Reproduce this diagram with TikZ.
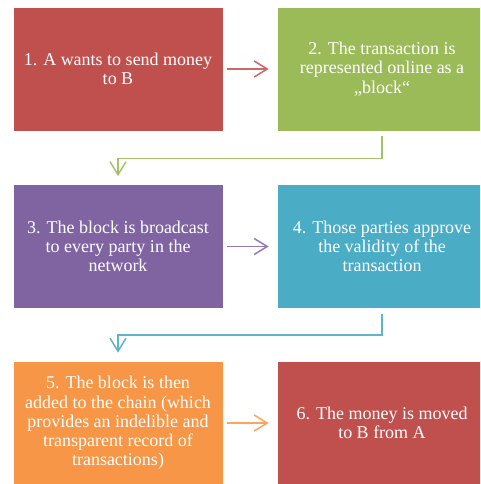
\documentclass[tikz,border=0pt]{standalone}
\usepackage{fontspec}
\setmainfont{Liberation Serif}
\usetikzlibrary{arrows.meta}
\definecolor{cred}{HTML}{C0504D}
\definecolor{cgreen}{HTML}{9BBB59}
\definecolor{cpurple}{HTML}{8064A2}
\definecolor{cteal}{HTML}{4BACC6}
\definecolor{corange}{HTML}{F79646}
\tikzset{
  box/.style={rectangle, draw=white, line width=0.8pt, minimum width=210pt, minimum height=124pt,
    text=white, align=center, inner sep=0pt,
    font=\fontsize{18pt}{19.2pt}\selectfont},
  conn/.style={line width=1.5pt, -{Straight Barb[length=13pt,width=16pt,line width=1.5pt]}},
}
\begin{document}
\begin{tikzpicture}[x=1pt,y=-1pt]
\clip (0,0) rectangle (480,484);
\fill[white] (0,0) rectangle (480,484);
\node[box, fill=cred] (b1) at (118,69) {1. A wants to send money\\to B};
\node[box, fill=cgreen] (b2) at (382,69) {2. The transaction is\\represented online as a\\„block“};
\node[box, fill=cpurple] (b3) at (118,246.5) {3. The block is broadcast\\to every party in the\\network};
\node[box, fill=cteal] (b4) at (382,246.5) {4. Those parties approve\\the validity of the\\transaction};
\node[box, fill=corange] (b5) at (118,423) {5. The block is then\\added to the chain (which\\provides an indelible and\\transparent record of\\transactions)};
\node[box, fill=cred] (b6) at (382,423) {6. The money is moved\\to B from A};
\draw[conn, draw=cred!85!white, shorten <=4pt, shorten >=8pt] (b1.east) -- (b2.west);
\draw[conn, draw=cpurple!85!white, shorten <=4pt, shorten >=8pt] (b3.east) -- (b4.west);
\draw[conn, draw=corange!85!white, shorten <=4pt, shorten >=8pt] (b5.east) -- (b6.west);
\draw[conn, draw=cgreen!90!white, shorten <=5pt, shorten >=8pt] (b2.south) -- ++(0,27) -| (b3.north);
\draw[conn, draw=cteal!90!white, shorten <=5pt, shorten >=8pt] (b4.south) -- ++(0,26) -| (b5.north);
\end{tikzpicture}
\end{document}
